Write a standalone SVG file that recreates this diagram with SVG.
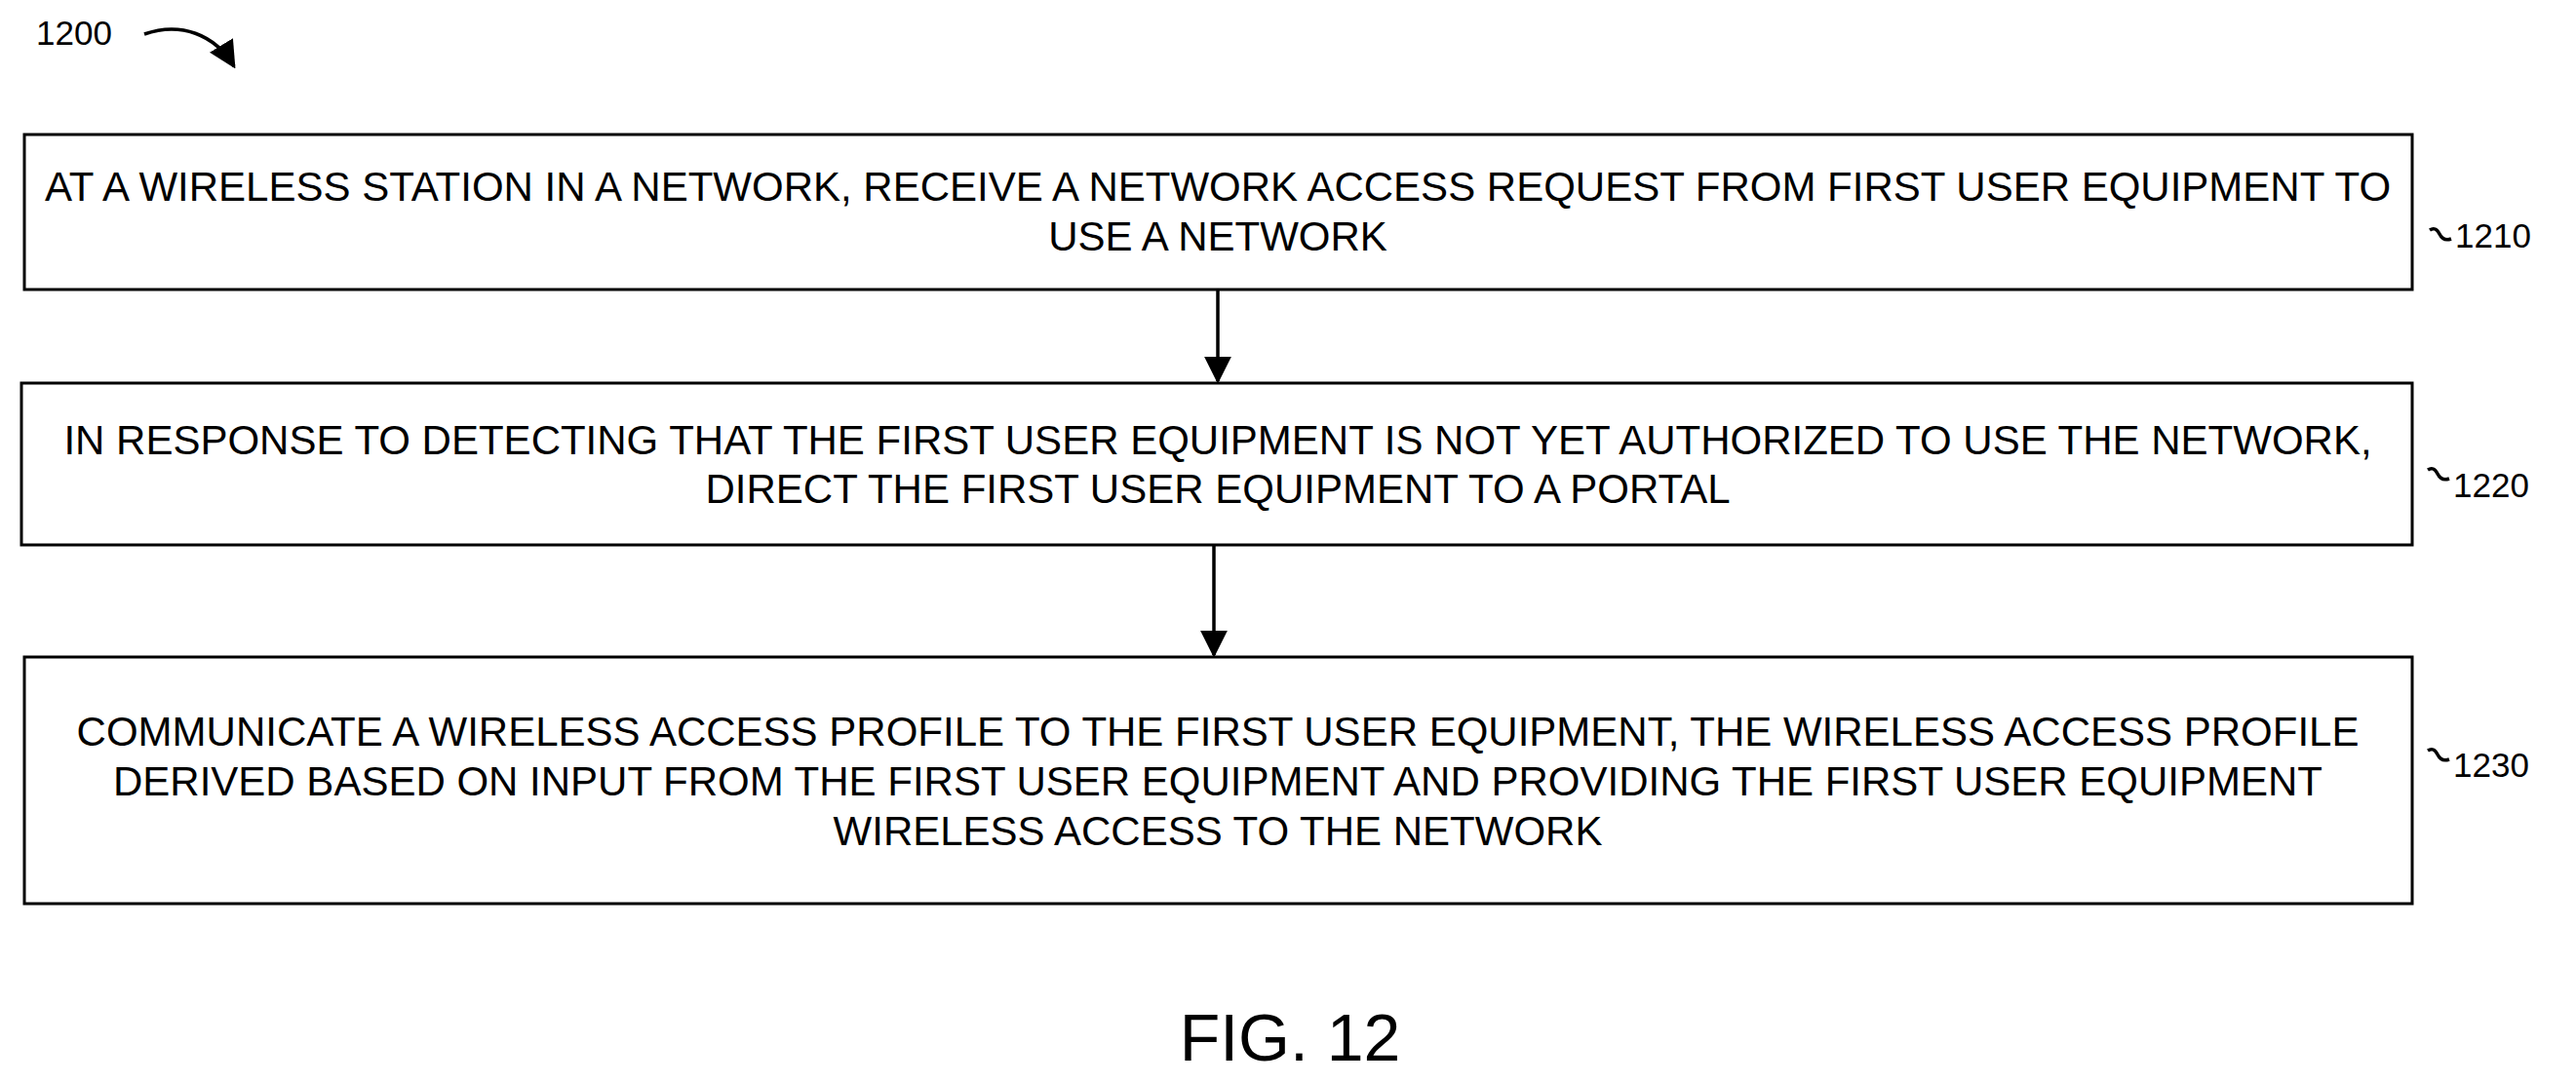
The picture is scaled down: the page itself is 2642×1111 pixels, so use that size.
<svg xmlns="http://www.w3.org/2000/svg" width="2642" height="1111" viewBox="0 0 2642 1111">
<style>
.b{fill:#fff;stroke:#000;stroke-width:3}
.t{font-family:"Liberation Sans",Arial,sans-serif;font-size:42px;text-anchor:middle;fill:#000}
.r{font-family:"Liberation Sans",Arial,sans-serif;font-size:35px;fill:#000}
.c{fill:none;stroke:#000;stroke-width:3.5}
</style>
<defs>
<marker id="h" viewBox="0 0 10 10" refX="9" refY="5" markerWidth="28" markerHeight="28" orient="auto" markerUnits="userSpaceOnUse"><path d="M0,0L10,5L0,10z"/></marker></defs>
<g id="ref1200"><text class="r" x="37" y="46">1200</text><path class="c" d="M148,35 C185,22 220,35 240,68" marker-end="url(#h)"/></g>
<g id="n1210"><rect class="b" x="25" y="138" width="2449" height="159"/>
<text class="t" x="1249" y="206">AT A WIRELESS STATION IN A NETWORK, RECEIVE A NETWORK ACCESS REQUEST FROM FIRST USER EQUIPMENT TO</text>
<text class="t" x="1249" y="257">USE A NETWORK</text>
<path class="c" d="M2492,236 q6,-4 10,4 t12,5"/><text class="r" x="2518" y="254">1210</text></g>
<g id="n1220"><rect class="b" x="22" y="393" width="2452" height="166"/>
<text class="t" x="1249" y="466">IN RESPONSE TO DETECTING THAT THE FIRST USER EQUIPMENT IS NOT YET AUTHORIZED TO USE THE NETWORK,</text>
<text class="t" x="1249" y="516">DIRECT THE FIRST USER EQUIPMENT TO A PORTAL</text>
<path class="c" d="M2490,482 q6,-4 10,4 t12,5"/><text class="r" x="2516" y="510">1220</text></g>
<g id="n1230"><rect class="b" x="25" y="674" width="2449" height="253"/>
<text class="t" x="1249" y="765">COMMUNICATE A WIRELESS ACCESS PROFILE TO THE FIRST USER EQUIPMENT, THE WIRELESS ACCESS PROFILE</text>
<text class="t" x="1249" y="816">DERIVED BASED ON INPUT FROM THE FIRST USER EQUIPMENT AND PROVIDING THE FIRST USER EQUIPMENT</text>
<text class="t" x="1249" y="867">WIRELESS ACCESS TO THE NETWORK</text>
<path class="c" d="M2490,770 q6,-4 10,4 t12,5"/><text class="r" x="2516" y="797">1230</text></g>
<g id="connectors">
<line class="c" x1="1249" y1="297" x2="1249" y2="391" marker-end="url(#h)"/>
<line class="c" x1="1245" y1="559" x2="1245" y2="672" marker-end="url(#h)"/>
</g>
<text x="1323" y="1088" font-family="Liberation Sans,Arial,sans-serif" font-size="68" text-anchor="middle">FIG. 12</text>
</svg>
